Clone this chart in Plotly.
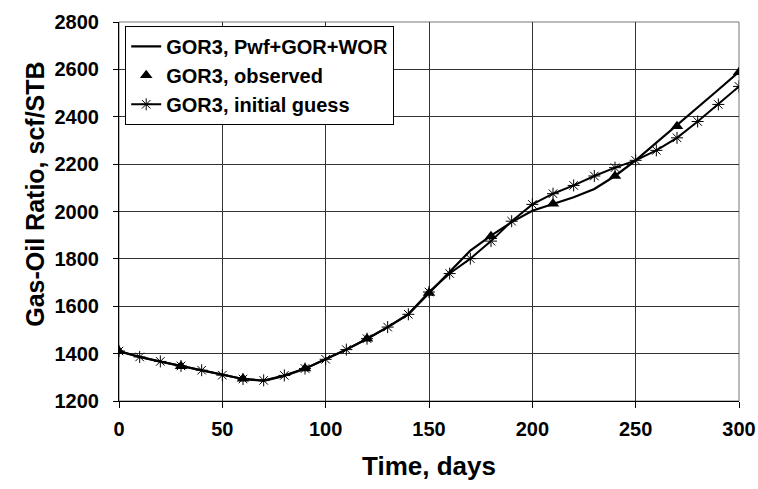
import glob
import subprocess
import plotly.graph_objects as go

# Observed GOR3 (triangles)
t_obs = [0, 30, 60, 90, 120, 150, 180, 210, 240, 270, 300]
gor_obs = [1410, 1347, 1294, 1337, 1463, 1656, 1895, 2033, 2150, 2360, 2588]

# History-matched (Pwf+GOR+WOR) line
t_fit = [0, 10, 20, 30, 40, 50, 60, 70, 80, 90, 100, 110, 120, 130, 140, 150,
         160, 170, 180, 190, 200, 210, 220, 230, 240, 250, 260, 270, 280, 290, 300]
gor_fit = [1410, 1386, 1366, 1347, 1328, 1309, 1293, 1285, 1306, 1336, 1376, 1417,
           1462, 1512, 1566, 1657, 1748, 1835, 1898, 1955, 2003, 2033, 2060, 2095,
           2150, 2216, 2290, 2362, 2438, 2514, 2590]

# Initial guess (stars)
t_init = [0, 10, 20, 30, 40, 50, 60, 70, 80, 90, 100, 110, 120, 130, 140, 150,
          160, 170, 180, 190, 200, 210, 220, 230, 240, 250, 260, 270, 280, 290, 300]
gor_init = [1411, 1386, 1367, 1348, 1330, 1309, 1293, 1287, 1308, 1337, 1376, 1417,
            1463, 1512, 1566, 1660, 1738, 1801, 1875, 1959, 2030, 2075, 2110, 2150,
            2185, 2216, 2258, 2311, 2380, 2452, 2528]

x_ticks = [0, 50, 100, 150, 200, 250, 300]
y_ticks = [1200, 1400, 1600, 1800, 2000, 2200, 2400, 2600, 2800]
x_title = "Time, days"
y_title = "Gas-Oil Ratio, scf/STB"

FONT = "Liberation Sans, Arial, sans-serif"


def has_narrow():
    try:
        out = subprocess.run(["fc-list"], capture_output=True, text=True, timeout=10).stdout
        if "Liberation Sans Narrow" in out:
            return True
    except Exception:
        pass
    return bool(glob.glob("/usr/share/fonts/**/LiberationSansNarrow*", recursive=True))


if has_narrow():
    TFONT = "Liberation Sans Narrow"
    xt_size, yt_size = 33, 31
else:
    TFONT = FONT
    xt_size, yt_size = 26, 25

fig = go.Figure()
fig.add_trace(go.Scatter(
    x=t_fit, y=gor_fit, mode="lines", name="GOR3, Pwf+GOR+WOR",
    line=dict(color="black", width=2.2)))
fig.add_trace(go.Scatter(
    x=t_obs, y=gor_obs, mode="markers", name="GOR3, observed",
    marker=dict(symbol="triangle-up", color="black", size=11,
                line=dict(color="black", width=0))))
fig.add_trace(go.Scatter(
    x=t_init, y=gor_init, mode="lines+markers", name="GOR3, initial guess",
    line=dict(color="black", width=2),
    marker=dict(symbol="asterisk-open", color="black", size=10,
                line=dict(color="black", width=1))))

fig.update_layout(
    width=758, height=489,
    margin=dict(l=119, r=19, t=22, b=88, autoexpand=False),
    paper_bgcolor="white", plot_bgcolor="white",
    font=dict(family=FONT, size=20, color="black"),
    showlegend=True,
    legend=dict(
        x=0.01, y=0.99, xanchor="left", yanchor="top",
        bgcolor="white", bordercolor="black", borderwidth=1,
        font=dict(family=FONT, size=20, color="black", weight="bold"),
        tracegroupgap=0, itemwidth=30,
    ),
    annotations=[
        dict(text=x_title, xref="paper", yref="paper", x=0.5, y=-0.1715,
             xanchor="center", yanchor="middle", showarrow=False,
             font=dict(family=TFONT, size=xt_size, color="black", weight="bold")),
        dict(text=y_title, xref="paper", yref="paper", x=-0.135, y=0.545,
             xanchor="center", yanchor="middle", showarrow=False, textangle=-90,
             font=dict(family=TFONT, size=yt_size, color="black", weight="bold")),
    ],
)
fig.update_xaxes(
    range=[0, 300], tickvals=x_ticks, ticktext=[str(v) for v in x_ticks],
    showgrid=True, gridcolor="#333", gridwidth=1, automargin=False,
    showline=True, linecolor="black", linewidth=1, mirror=False,
    ticks="outside", ticklen=6, tickcolor="black", ticklabelstandoff=4,
    tickfont=dict(family=FONT, size=20, color="black", weight="bold"),
    zeroline=False,
)
fig.update_yaxes(
    range=[1200, 2800], tickvals=y_ticks, ticktext=[str(v) for v in y_ticks],
    showgrid=True, gridcolor="#333", gridwidth=1, automargin=False,
    showline=True, linecolor="black", linewidth=1, mirror=False,
    ticks="outside", ticklen=5, tickcolor="black", ticklabelstandoff=10,
    tickfont=dict(family=FONT, size=20, color="black", weight="bold"),
    zeroline=False,
)
# gray frame on top and right
fig.add_shape(type="rect", xref="paper", yref="paper", x0=0, y0=0, x1=1, y1=1,
              line=dict(color="#777", width=1), layer="below")

fig.write_html("out.html")
